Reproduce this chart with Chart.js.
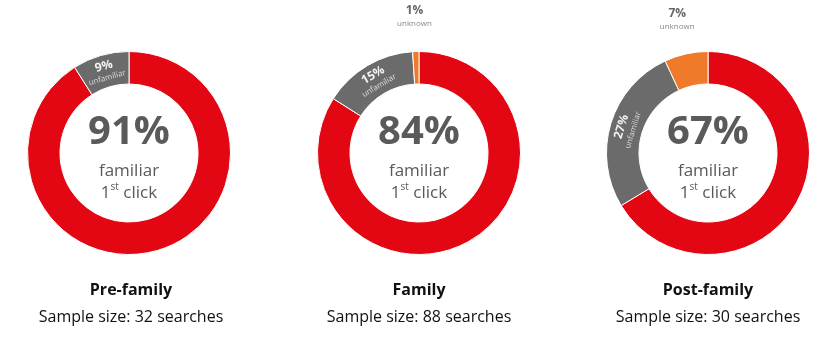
<!DOCTYPE html>
<html>
<head>
<meta charset="utf-8">
<script src="https://cdn.jsdelivr.net/npm/chart.js@4.4.1/dist/chart.umd.min.js"></script>
<style>
	body { margin: 0; background: #fff; font-family: "Open Sans", sans-serif; }
	#wrap { position: relative; width: 839px; height: 360px; overflow: hidden; }
	.box { position: absolute; top: 3px; width: 280px; height: 300px; }
	.cap { position: absolute; width: 280px; text-align: center; color: #111; }
	.cap .t { position: absolute; top: 278px; width: 100%; font-weight: bold; font-size: 16px; }
	.cap .s { position: absolute; top: 305px; width: 100%; font-size: 16px; }
</style>
</head>
<body>
<div id="wrap"></div>
<script>
var groups = ["Pre-family", "Family", "Post-family"];
var sampleSizes = [32, 88, 30];
var categories = ["familiar", "unfamiliar", "unknown"];
var familiar = [91, 84, 67];
var unfamiliar = [9, 15, 27];
var unknown = [0, 1, 7];
var centers = [129, 419, 708];
var colors = ["#e30613", "#6b6b6b", "#ee7a2a"];

// segment labels: gray inside the ring, orange outside above
var segLabels = {
	id: 'segLabels',
	afterDatasetsDraw: function(chart) {
		var ctx = chart.ctx;
		var meta = chart.getDatasetMeta(0);
		var vals = chart.data.datasets[0].data;
		meta.data.forEach(function(arc, i) {
			if (i == 0 || !vals[i]) return;
			var p = arc.getProps(['x', 'y', 'startAngle', 'endAngle', 'innerRadius', 'outerRadius'], true);
			var mid = (p.startAngle + p.endAngle) / 2;
			ctx.save();
			ctx.textAlign = 'center';
			ctx.textBaseline = 'middle';
			if (i == 1) {
				var r = (p.innerRadius + p.outerRadius) / 2;
				ctx.translate(p.x + Math.cos(mid) * r, p.y + Math.sin(mid) * r);
				ctx.rotate(mid + Math.PI / 2);
				ctx.fillStyle = '#f2f2f2';
				ctx.font = 'bold 12px "Open Sans"';
				ctx.fillText(vals[i] + '%', 0, -5);
				ctx.fillStyle = '#dcdcdc';
				ctx.font = '8px "Open Sans"';
				ctx.fillText(categories[i], 0, 7);
			} else {
				var r2 = p.outerRadius + 41;
				var lx = p.x + Math.cos(mid) * r2, ly = p.y + Math.sin(mid) * r2;
				ctx.fillStyle = '#666666';
				ctx.font = 'bold 12px "Open Sans"';
				ctx.fillText(vals[i] + '%', lx, ly);
				ctx.fillStyle = '#888888';
				ctx.font = '8px "Open Sans"';
				ctx.fillText(categories[i], lx, ly + 13);
			}
			ctx.restore();
		});
		// center text
		var a = meta.data[0];
		var cx = a.x, cy = a.y;
		ctx.save();
		ctx.textAlign = 'center';
		ctx.textBaseline = 'middle';
		ctx.fillStyle = '#5a5a5a';
		ctx.font = 'bold 40px "Open Sans"';
		ctx.fillText(vals[0] + '%', cx, cy - 20);
		ctx.font = '17px "Open Sans"';
		ctx.fillText(categories[0], cx, cy + 18);
		var w1 = ctx.measureText('1').width;
		ctx.font = '10px "Open Sans"';
		var w2 = ctx.measureText('st').width;
		ctx.font = '17px "Open Sans"';
		var w3 = ctx.measureText(' click').width;
		var x0 = cx - (w1 + w2 + w3) / 2;
		ctx.textAlign = 'left';
		ctx.fillText('1', x0, cy + 40);
		ctx.fillText(' click', x0 + w1 + w2, cy + 40);
		ctx.font = '10px "Open Sans"';
		ctx.fillText('st', x0 + w1, cy + 34);
		ctx.restore();
	}
};

var wrap = document.getElementById('wrap');
groups.forEach(function(g, k) {
	var box = document.createElement('div');
	box.className = 'box';
	box.style.left = (centers[k] - 140) + 'px';
	var cv = document.createElement('canvas');
	cv.width = 280; cv.height = 300;
	box.appendChild(cv);
	wrap.appendChild(box);

	var cap = document.createElement('div');
	cap.className = 'cap';
	cap.style.left = (centers[k] - 140 + (k == 0 ? 2 : 0)) + 'px';
	cap.innerHTML = '<div class="t">' + g + '</div><div class="s">Sample size: ' + sampleSizes[k] + ' searches</div>';
	wrap.appendChild(cap);

	new Chart(cv.getContext('2d'), {
		type: 'doughnut',
		data: {
			labels: categories,
			datasets: [{
				data: [familiar[k], unfamiliar[k], unknown[k]],
				backgroundColor: colors,
				borderColor: '#ffffff',
				borderWidth: 1
			}]
		},
		options: {
			responsive: false,
			animation: false,
			cutout: '68%',
			layout: { padding: 38 },
			plugins: {
				legend: { display: false },
				tooltip: { enabled: false }
			}
		},
		plugins: [segLabels]
	});
});
</script>
</body>
</html>
